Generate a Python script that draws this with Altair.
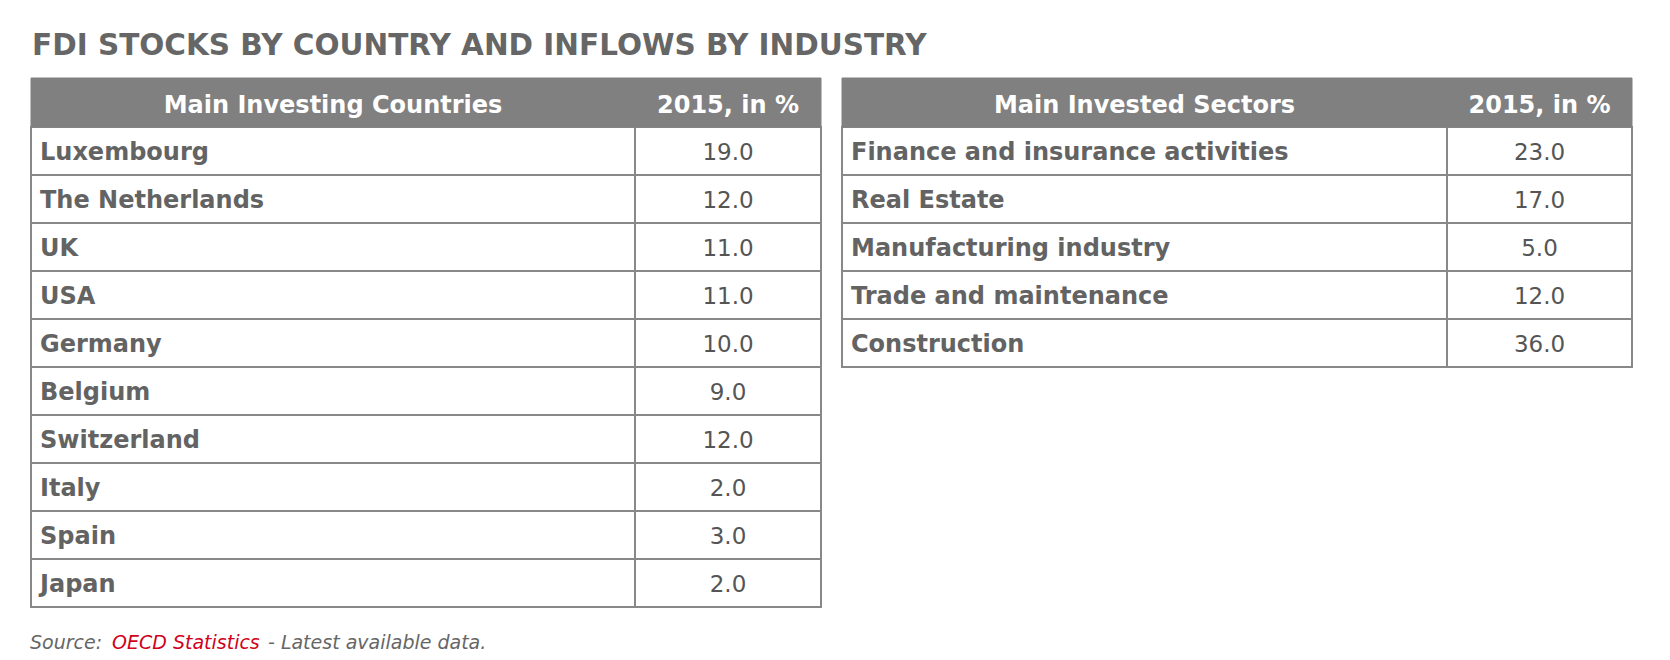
import altair as alt
import pandas as pd

# ---- data ----
title_text = "FDI STOCKS BY COUNTRY AND INFLOWS BY INDUSTRY"
left_headers = ["Main Investing Countries", "2015, in %"]
countries = ["Luxembourg", "The Netherlands", "UK", "USA", "Germany",
             "Belgium", "Switzerland", "Italy", "Spain", "Japan"]
country_values = [19.0, 12.0, 11.0, 11.0, 10.0, 9.0, 12.0, 2.0, 3.0, 2.0]
right_headers = ["Main Invested Sectors", "2015, in %"]
sectors = ["Finance and insurance activities", "Real Estate",
           "Manufacturing industry", "Trade and maintenance", "Construction"]
sector_values = [23.0, 17.0, 5.0, 12.0, 36.0]
source_parts = ["Source:", "OECD Statistics", "- Latest available data."]

# ---- layout ----
W, H = 1654, 644
HEAD_TOP, HEAD_BOT = 70, 119
ROW_H = 48
tables = [
    dict(x0=23, xm=627, x1=813, headers=left_headers, labels=countries, values=country_values),
    dict(x0=834, xm=1439, x1=1624, headers=right_headers, labels=sectors, values=sector_values),
]

GRAY_TEXT = "#636363"
BORDER = "#888888"
HEAD_FILL = "#808080"
FONT = "DejaVu Sans"

head_rects, cell_rects, head_texts, label_texts, value_texts = [], [], [], [], []
for t in tables:
    head_rects.append(dict(x0=t["x0"], x1=t["x1"], y0=HEAD_TOP, y1=HEAD_BOT))
    head_texts.append(dict(x=(t["x0"] + t["xm"]) / 2, y=HEAD_BOT - 14, s=t["headers"][0]))
    head_texts.append(dict(x=(t["xm"] + t["x1"]) / 2, y=HEAD_BOT - 14, s=t["headers"][1]))
    for i, (lab, val) in enumerate(zip(t["labels"], t["values"])):
        top = HEAD_BOT + i * ROW_H
        cell_rects.append(dict(x0=t["x0"], x1=t["xm"], y0=top, y1=top + ROW_H))
        cell_rects.append(dict(x0=t["xm"], x1=t["x1"], y0=top, y1=top + ROW_H))
        label_texts.append(dict(x=t["x0"] + 9, y=top + 33, s=lab))
        value_texts.append(dict(x=(t["xm"] + t["x1"]) / 2, y=top + 33, s=f"{val:.1f}"))

xs = alt.Scale(domain=[0, W], range=[0, W], nice=False, zero=False)
ys = alt.Scale(domain=[0, H], range=[0, H], nice=False, zero=False)


def rects(rows, fill, stroke, sw):
    return alt.Chart(pd.DataFrame(rows)).mark_rect(
        fill=fill, stroke=stroke, strokeWidth=sw
    ).encode(
        x=alt.X("x0:Q", scale=xs, axis=None), x2="x1:Q",
        y=alt.Y("y0:Q", scale=ys, axis=None), y2="y1:Q",
    )


def texts(rows, **kw):
    return alt.Chart(pd.DataFrame(rows)).mark_text(baseline="alphabetic", font=FONT, **kw).encode(
        x=alt.X("x:Q", scale=xs, axis=None),
        y=alt.Y("y:Q", scale=ys, axis=None),
        text="s:N",
    )


layers = [
    rects(cell_rects, "white", BORDER, 2),
    rects(head_rects, HEAD_FILL, HEAD_FILL, 1),
    texts(head_texts, align="center", fontSize=24, fontWeight="bold", color="white"),
    texts(label_texts, align="left", fontSize=24, fontWeight="bold", color=GRAY_TEXT),
    texts(value_texts, align="center", fontSize=23, color="#555555"),
    texts([dict(x=24, y=47, s=title_text)], align="left", fontSize=29.5, fontWeight="bold", color="#666666"),
    texts([dict(x=22, y=641, s=source_parts[0])], align="left", fontSize=19, fontStyle="italic", color="#666666"),
    texts([dict(x=104, y=641, s=source_parts[1])], align="left", fontSize=19, fontStyle="italic", color="#d0021b"),
    texts([dict(x=260, y=641, s=source_parts[2])], align="left", fontSize=19, fontStyle="italic", color="#666666"),
]

chart = alt.layer(*layers).properties(
    width=W, height=H, padding=0, autosize=alt.AutoSizeParams(type="none"), background="white"
).configure_view(stroke=None)

chart.save("out.html", embed_options={"renderer": "svg", "actions": False})
